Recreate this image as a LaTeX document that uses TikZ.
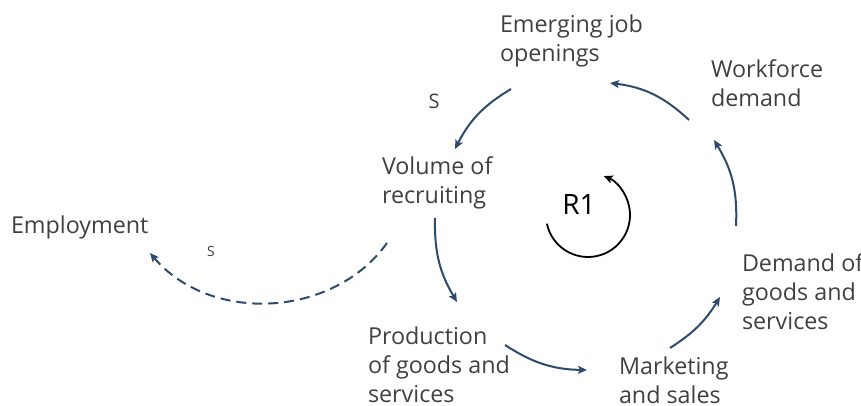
\documentclass[tikz,border=0pt]{standalone}
\usepackage{fontspec}
\setmainfont{Open Sans}
\usetikzlibrary{arrows.meta}
\definecolor{linkblue}{HTML}{2E4A6D}
\begin{document}
\begin{tikzpicture}[x=1pt, y=1pt, line width=2pt,
    label/.style={anchor=base west, align=left, inner sep=0, text=black!75,
      font=\fontsize{23.3}{29}\selectfont},
    sign/.style={inner sep=0, text=black!75},
    link/.style={draw=linkblue, -{Stealth[length=9pt, width=8pt, inset=2pt]}},
    dashlink/.style={link, dash pattern=on 10pt off 6pt}]
  \useasboundingbox (0,0) rectangle (861,406);
  % Begriffe (Anker: Grundlinie der letzten Zeile)
  \node[label] (emerg) at (499,344) {Emerging job\\openings};
  \node[label] (work) at (710,299) {Workforce\\demand};
  \node[label] (vol) at (381,202) {Volume of\\recruiting};
  \node[label] (employ) at (10,172) {Employment};
  \node[label] (demand) at (741,76) {Demand of\\goods and\\services};
  \node[label] (market) at (618,2) {Marketing\\and sales};
  \node[label] (prod) at (367,3) {Production\\of goods and\\services};
  % Polaritaeten
  \node[sign, font=\fontsize{20}{24}\selectfont] (sign1) at (434,305) {S};
  \node[sign, font=\fontsize{14}{17}\selectfont] (sign2) at (211,154) {S};
  % Schleife R1
  \node[inner sep=0, font=\fontsize{28}{32}\selectfont] (r1) at (579,201) {R1};
  \draw[line width=1.8pt, -{Stealth[length=9pt, width=8pt, inset=2pt]}]
    ([shift={(9,-10)}]r1.center) ++(192:42) arc[start angle=192, end angle=428, radius=42];
  % Wirkungskette
  \draw[link] ([shift={(12,-27)}]emerg.base west) to[bend right=16] ([shift={(74,55)}]vol.base west);
  \draw[link] ([shift={(-21,-13)}]work.base west) to[bend right=18] ([shift={(111,-21)}]emerg.base west);
  \draw[link] ([shift={(-5,104)}]demand.base west) to[bend right=17] ([shift={(4,-33)}]work.base west);
  \draw[link] ([shift={(52,56)}]market.base west) to[bend right=13] ([shift={(-21,33)}]demand.base west);
  \draw[link] ([shift={(138,58)}]prod.base west) to[bend right=16] ([shift={(-31,34)}]market.base west);
  \draw[link] ([shift={(54,-14)}]vol.base west) to[bend right=16] ([shift={(90,101)}]prod.base west);
  \draw[dashlink] ([shift={(6,-39)}]vol.base west) to[bend left=52] ([shift={(140,-19)}]employ.base west);
\end{tikzpicture}
\end{document}
